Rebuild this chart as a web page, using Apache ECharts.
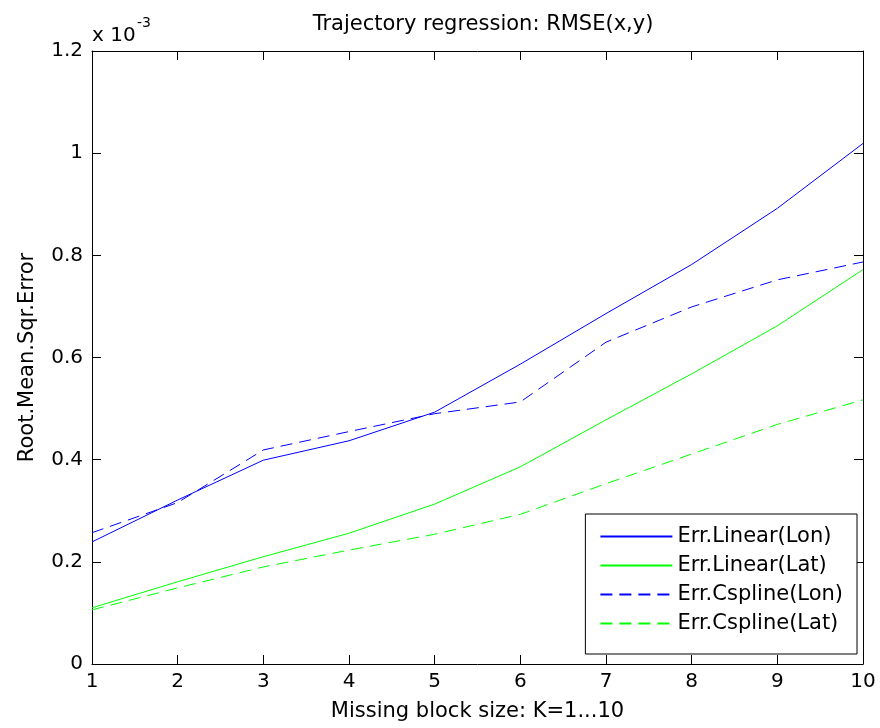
<!DOCTYPE html>
<html>
<head>
<meta charset="utf-8">
<script src="https://cdn.jsdelivr.net/npm/echarts@6/dist/echarts.min.js"></script>
<style>html,body{margin:0;padding:0;background:#fff}#c{width:880px;height:728px}</style>
</head>
<body>
<div id="c"></div>
<script>
const categories = [1, 2, 3, 4, 5, 6, 7, 8, 9, 10];
const linearLon  = [0.239, 0.321, 0.399, 0.437, 0.493, 0.587, 0.686, 0.782, 0.892, 1.019];
const linearLat  = [0.110, 0.161, 0.210, 0.256, 0.313, 0.386, 0.478, 0.568, 0.662, 0.772];
const csplineLon = [0.257, 0.316, 0.419, 0.455, 0.490, 0.513, 0.630, 0.699, 0.752, 0.787];
const csplineLat = [0.106, 0.149, 0.190, 0.223, 0.254, 0.293, 0.353, 0.411, 0.469, 0.517];
const yTicks = [0, 0.2, 0.4, 0.6, 0.8, 1, 1.2];
const names = ['Err.Linear(Lon)', 'Err.Linear(Lat)', 'Err.Cspline(Lon)', 'Err.Cspline(Lat)'];

const FONT = "'DejaVu Sans', 'Liberation Sans', Arial, sans-serif";
const FS = 21;
const FT = 20;
const chart = echarts.init(document.getElementById('c'), null, {renderer: 'canvas'});
const pair = a => a.map((v, i) => [categories[i], v]);
const mk = (name, data, color, type) => ({
  name, type: 'line', data: pair(data), symbol: 'none', smooth: false,
  lineStyle: {color, width: 1, type: type === 'dashed' ? [12, 7] : 'solid'},
  itemStyle: {color}, emphasis: {disabled: true}, z: 3
});
const axisLineStyle = {color: '#000', width: 1};
chart.setOption({
  animation: false,
  backgroundColor: '#fff',
  title: {
    text: 'Trajectory regression: RMSE(x,y)', left: 478, top: 9, textAlign: 'center',
    textStyle: {fontFamily: FONT, fontSize: FS, fontWeight: 'normal', color: '#000'}
  },
  grid: {left: 92, right: 17, top: 51, bottom: 64, containLabel: false, outerBoundsMode: 'none'},
  legend: {
    orient: 'vertical', right: 23, bottom: 74,
    backgroundColor: '#fff', borderColor: '#000', borderWidth: 1,
    padding: [12, 14, 20, 14], itemWidth: 72, itemHeight: 14, itemGap: 8,
    itemStyle: {color: 'rgba(0,0,0,0)', borderWidth: 0},
    data: names,
    textStyle: {fontFamily: FONT, fontSize: FS, color: '#000'}
  },
  xAxis: [{
    type: 'value', min: 1, max: 10, interval: 1,
    name: 'Missing block size: K=1...10', nameLocation: 'middle', nameGap: 37, nameMoveOverlap: false,
    nameTextStyle: {fontFamily: FONT, fontSize: FS, color: '#000'},
    axisLine: {show: true, lineStyle: axisLineStyle},
    axisTick: {show: true, inside: true, length: 9, lineStyle: axisLineStyle},
    axisLabel: {fontFamily: FONT, fontSize: FT, color: '#000', margin: 8},
    splitLine: {show: false}
  }, {
    type: 'value', min: 1, max: 10, interval: 1, position: 'top',
    axisLine: {show: true, onZero: false, lineStyle: axisLineStyle},
    axisTick: {show: true, inside: true, length: 9, lineStyle: axisLineStyle},
    axisLabel: {show: false}, splitLine: {show: false}
  }],
  yAxis: [{
    type: 'value', min: 0, max: 1.2, interval: 0.2,
    name: 'Root.Mean.Sqr.Error', nameLocation: 'middle', nameGap: 54, nameMoveOverlap: false,
    nameTextStyle: {fontFamily: FONT, fontSize: FS, color: '#000'},
    axisLine: {show: true, lineStyle: axisLineStyle},
    axisTick: {show: true, inside: true, length: 9, lineStyle: axisLineStyle},
    axisLabel: {fontFamily: FONT, fontSize: FT, color: '#000', margin: 9,
      formatter: v => { const t = yTicks.find(k => Math.abs(k - v) < 1e-9); return String(t !== undefined ? t : v); }},
    splitLine: {show: false}
  }, {
    type: 'value', min: 0, max: 1.2, interval: 0.2, position: 'right',
    axisLine: {show: true, onZero: false, lineStyle: axisLineStyle},
    axisTick: {show: true, inside: true, length: 9, lineStyle: axisLineStyle},
    axisLabel: {show: false}, splitLine: {show: false}
  }],
  graphic: [{
    type: 'text', x: 92, y: 46,
    style: {text: 'x 10', font: FT + 'px ' + FONT, fill: '#000', verticalAlign: 'bottom'}
  }, {
    type: 'text', x: 137, y: 30,
    style: {text: '-3', font: '14px ' + FONT, fill: '#000', verticalAlign: 'bottom'}
  }],
  series: [
    mk(names[0], linearLon, '#0000ff', 'solid'),
    mk(names[1], linearLat, '#00ff00', 'solid'),
    mk(names[2], csplineLon, '#0000ff', 'dashed'),
    mk(names[3], csplineLat, '#00ff00', 'dashed')
  ]
});
</script>
</body>
</html>
